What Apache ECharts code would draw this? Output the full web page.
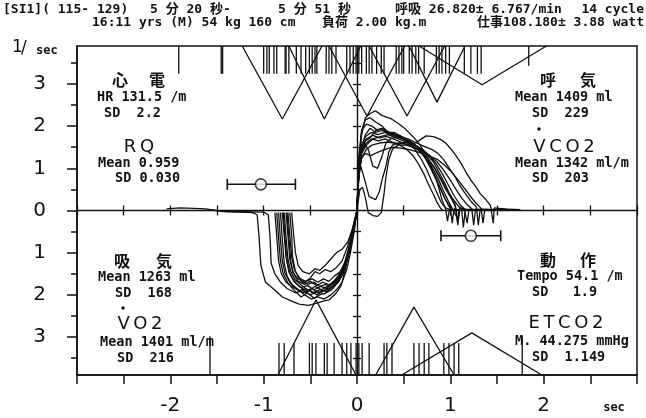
<!DOCTYPE html>
<html><head><meta charset="utf-8">
<script src="https://cdn.jsdelivr.net/npm/echarts@6/dist/echarts.min.js"></script>
<style>html,body{margin:0;padding:0;background:#fff}#c{width:646px;height:418px}</style>
</head><body><div id="c"></div>
<script>
// ---- breath cycles: [time (sec), flow (l/sec)], inspiration negative ----
const cycle01 = [[-2.04,0.04],[-1.9,0.06],[-1.75,0.05],[-1.62,0.04],[-1.52,0.0],[-1.4,-0.03],[-1.25,-0.04],[-1.12,-0.05],[-1.07,-0.1],[-1.05,-0.6],[-1.03,-1.3],[-0.98,-1.7],[-0.9,-1.85],[-0.8,-2.05],[-0.7,-2.15],[-0.62,-2.22],[-0.52,-2.25],[-0.44,-2.2],[-0.36,-2.15],[-0.3,-2.12],[-0.22,-1.95],[-0.17,-1.78],[-0.12,-1.35],[-0.08,-0.9],[-0.04,-0.45],[0,0],[0.02,0.9],[0.05,1.35],[0.1,1.55],[0.17,1.7],[0.25,1.75],[0.33,1.8],[0.42,1.72],[0.5,1.65],[0.58,1.55],[0.65,1.45],[0.72,1.28],[0.8,1.05],[0.87,0.75],[0.93,0.45],[0.98,0.22],[1.02,0.05],[1.08,-0.2],[1.1,0.05],[1.2,0.02]];
const cycle02 = [[-1.6,0.02],[-1.4,-0.02],[-1.2,-0.03],[-1.0,-0.04],[-0.95,-0.1],[-0.93,-0.7],[-0.92,-1.25],[-0.88,-1.5],[-0.82,-1.7],[-0.75,-1.85],[-0.66,-1.95],[-0.58,-1.9],[-0.5,-2.0],[-0.42,-1.92],[-0.35,-1.98],[-0.28,-1.85],[-0.2,-1.7],[-0.14,-1.45],[-0.09,-1.0],[-0.04,-0.5],[0,0],[0.02,1.1],[0.05,1.9],[0.09,2.15],[0.14,2.2],[0.2,2.1],[0.27,2.0],[0.33,1.85],[0.4,1.85],[0.48,1.75],[0.55,1.6],[0.62,1.45],[0.68,1.25],[0.74,1.0],[0.8,0.7],[0.85,0.45],[0.9,0.2],[0.95,0.06],[1.0,0.02]];
const cycle03 = [[-0.88,-0.05],[-0.86,-0.6],[-0.84,-1.2],[-0.81,-1.5],[-0.76,-1.7],[-0.7,-1.8],[-0.62,-1.9],[-0.55,-1.85],[-0.48,-1.95],[-0.4,-1.88],[-0.33,-1.92],[-0.26,-1.8],[-0.2,-1.65],[-0.14,-1.4],[-0.09,-0.95],[-0.04,-0.45],[0,0],[0.02,1.2],[0.05,1.8],[0.09,2.2],[0.14,2.3],[0.2,2.36],[0.27,2.25],[0.37,2.17],[0.45,2.05],[0.52,1.93],[0.6,1.75],[0.66,1.6],[0.72,1.4],[0.77,1.2],[0.81,0.95],[0.85,0.74],[0.88,0.5],[0.91,0.26],[0.95,0.03],[0.97,-0.25],[0.99,0.02],[1.05,0.0]];
const cycle04 = [[-0.72,-0.05],[-0.7,-0.6],[-0.69,-1.1],[-0.66,-1.45],[-0.6,-1.65],[-0.53,-1.75],[-0.46,-1.7],[-0.4,-1.8],[-0.33,-1.75],[-0.27,-1.8],[-0.2,-1.6],[-0.14,-1.3],[-0.09,-0.9],[-0.04,-0.45],[0,0],[0.02,0.85],[0.05,1.25],[0.1,1.45],[0.16,1.55],[0.24,1.6],[0.32,1.62],[0.4,1.6],[0.5,1.58],[0.58,1.55],[0.66,1.65],[0.74,1.77],[0.82,1.75],[0.9,1.68],[0.95,1.6],[1.01,1.45],[1.06,1.3],[1.12,1.1],[1.17,0.9],[1.22,0.72],[1.27,0.57],[1.32,0.4],[1.38,0.26],[1.43,0.12],[1.46,-0.3],[1.47,0.06],[1.49,0.02],[1.6,0.03],[1.75,0.02]];
const cycle05 = [[-0.8,-0.05],[-0.78,-0.6],[-0.76,-1.1],[-0.73,-1.45],[-0.68,-1.65],[-0.62,-1.8],[-0.55,-1.9],[-0.48,-1.85],[-0.42,-1.95],[-0.35,-1.9],[-0.28,-1.75],[-0.22,-1.6],[-0.16,-1.4],[-0.1,-1.05],[-0.05,-0.55],[0,0],[0.03,0.5],[0.06,0.55],[0.09,0.3],[0.12,-0.05],[0.17,-0.12],[0.22,-0.14],[0.26,-0.05],[0.29,0.4],[0.31,0.8],[0.34,1.2],[0.38,1.45],[0.44,1.55],[0.52,1.55],[0.6,1.5],[0.68,1.4],[0.75,1.25],[0.82,1.05],[0.88,0.8],[0.94,0.55],[1.0,0.32],[1.05,0.15],[1.08,-0.35],[1.1,0.08],[1.15,0.02]];
const cycle06 = [[-0.84,-0.05],[-0.82,-0.7],[-0.8,-1.2],[-0.77,-1.5],[-0.72,-1.7],[-0.65,-1.85],[-0.58,-1.95],[-0.5,-1.9],[-0.43,-2.0],[-0.36,-1.9],[-0.3,-1.85],[-0.24,-1.75],[-0.18,-1.6],[-0.12,-1.3],[-0.07,-0.85],[-0.03,-0.4],[0,0],[0.02,0.8],[0.04,1.05],[0.08,0.75],[0.13,0.33],[0.2,0.26],[0.24,0.45],[0.27,0.74],[0.31,1.05],[0.34,1.38],[0.38,1.55],[0.45,1.6],[0.53,1.62],[0.62,1.55],[0.7,1.45],[0.78,1.3],[0.85,1.1],[0.92,0.85],[0.98,0.6],[1.04,0.35],[1.1,0.15],[1.15,0.04],[1.18,-0.3],[1.2,0.03],[1.3,0.02]];
const cycle07 = [[-0.76,-0.05],[-0.74,-0.6],[-0.72,-1.15],[-0.69,-1.45],[-0.64,-1.6],[-0.57,-1.72],[-0.5,-1.6],[-0.45,-1.45],[-0.4,-1.5],[-0.34,-1.4],[-0.28,-1.45],[-0.22,-1.35],[-0.16,-1.2],[-0.1,-0.85],[-0.05,-0.45],[0,0],[0.02,0.95],[0.05,1.4],[0.08,1.6],[0.12,1.45],[0.17,1.05],[0.22,1.0],[0.27,1.3],[0.31,1.6],[0.36,1.7],[0.44,1.75],[0.52,1.7],[0.6,1.6],[0.67,1.45],[0.73,1.25],[0.79,1.0],[0.85,0.72],[0.9,0.48],[0.95,0.25],[1.0,0.08],[1.02,-0.3],[1.04,0.04],[1.1,0.01]];
const cycle08 = [[-0.79,-0.05],[-0.77,-0.7],[-0.75,-1.2],[-0.72,-1.5],[-0.67,-1.7],[-0.6,-1.82],[-0.53,-1.78],[-0.46,-1.88],[-0.39,-1.8],[-0.32,-1.85],[-0.26,-1.7],[-0.2,-1.62],[-0.14,-1.4],[-0.09,-1.0],[-0.04,-0.5],[0,0],[0.02,1.0],[0.05,1.55],[0.09,1.75],[0.15,1.85],[0.22,1.8],[0.3,1.85],[0.38,1.78],[0.46,1.72],[0.54,1.65],[0.62,1.55],[0.7,1.4],[0.77,1.2],[0.84,0.98],[0.9,0.75],[0.96,0.5],[1.02,0.3],[1.08,0.12],[1.12,0.03],[1.14,-0.4],[1.16,0.02],[1.25,0.01]];
const cycle09 = [[-0.75,-0.05],[-0.73,-0.65],[-0.71,-1.2],[-0.68,-1.5],[-0.63,-1.68],[-0.56,-1.75],[-0.5,-1.68],[-0.43,-1.78],[-0.37,-1.7],[-0.3,-1.76],[-0.24,-1.68],[-0.18,-1.55],[-0.12,-1.3],[-0.07,-0.9],[-0.03,-0.4],[0,0],[0.02,1.0],[0.05,1.5],[0.1,1.7],[0.17,1.78],[0.24,1.72],[0.31,1.76],[0.39,1.7],[0.47,1.62],[0.55,1.55],[0.63,1.48],[0.7,1.4],[0.78,1.3],[0.86,1.15],[0.93,0.95],[1.0,0.72],[1.06,0.5],[1.12,0.3],[1.18,0.14],[1.23,0.04],[1.25,-0.35],[1.27,0.03],[1.35,0.02]];
const cycle10 = [[-0.82,-0.05],[-0.8,-0.7],[-0.78,-1.25],[-0.75,-1.55],[-0.7,-1.75],[-0.63,-1.88],[-0.56,-2.0],[-0.49,-2.1],[-0.42,-2.05],[-0.35,-2.1],[-0.28,-2.0],[-0.22,-1.88],[-0.16,-1.7],[-0.11,-1.4],[-0.07,-1.0],[-0.03,-0.5],[0,0],[0.02,1.3],[0.05,1.9],[0.1,2.05],[0.16,2.0],[0.22,1.9],[0.28,1.95],[0.35,1.85],[0.43,1.8],[0.5,1.7],[0.58,1.6],[0.65,1.48],[0.72,1.3],[0.78,1.05],[0.84,0.8],[0.89,0.55],[0.94,0.3],[0.98,0.12],[1.01,0.02],[1.05,0.0]];
const cycle11 = [[-0.7,-0.05],[-0.68,-0.55],[-0.66,-1.0],[-0.63,-1.3],[-0.58,-1.45],[-0.51,-1.5],[-0.45,-1.38],[-0.4,-1.42],[-0.34,-1.3],[-0.28,-1.15],[-0.22,-1.0],[-0.16,-0.92],[-0.1,-0.75],[-0.05,-0.45],[0,0],[0.02,0.9],[0.05,1.25],[0.09,1.35],[0.15,1.3],[0.22,1.38],[0.3,1.45],[0.38,1.5],[0.46,1.48],[0.55,1.45],[0.63,1.4],[0.71,1.35],[0.79,1.28],[0.87,1.2],[0.95,1.05],[1.02,0.9],[1.09,0.7],[1.16,0.5],[1.22,0.32],[1.28,0.16],[1.33,0.05],[1.35,-0.3],[1.37,0.03],[1.45,0.02]];
const cycle12 = [[-0.86,-0.05],[-0.84,-0.65],[-0.82,-1.2],[-0.79,-1.5],[-0.74,-1.72],[-0.67,-1.9],[-0.6,-2.05],[-0.53,-1.95],[-0.46,-2.08],[-0.4,-2.0],[-0.33,-1.95],[-0.27,-1.88],[-0.21,-1.72],[-0.15,-1.5],[-0.1,-1.1],[-0.05,-0.6],[0,0],[0.02,1.0],[0.05,1.5],[0.09,1.8],[0.14,1.95],[0.2,1.85],[0.27,1.9],[0.34,1.82],[0.42,1.78],[0.5,1.7],[0.58,1.62],[0.66,1.5],[0.74,1.35],[0.82,1.15],[0.88,0.9],[0.94,0.65],[0.99,0.4],[1.03,0.2],[1.06,0.06],[1.08,-0.3],[1.1,0.02]];
const cycle13 = [[-0.78,-0.05],[-0.76,-0.65],[-0.74,-1.15],[-0.71,-1.45],[-0.66,-1.65],[-0.59,-1.78],[-0.52,-1.9],[-0.45,-1.8],[-0.38,-1.88],[-0.31,-1.78],[-0.25,-1.72],[-0.19,-1.55],[-0.13,-1.3],[-0.08,-0.9],[-0.04,-0.45],[0,0],[0.02,0.9],[0.05,1.4],[0.1,1.6],[0.16,1.7],[0.23,1.65],[0.3,1.7],[0.38,1.62],[0.46,1.55],[0.53,1.45],[0.6,1.3],[0.66,1.1],[0.72,0.85],[0.77,0.6],[0.82,0.38],[0.86,0.18],[0.9,0.04],[0.92,0.0]];
const cycle14 = [[-0.74,-0.05],[-0.72,-0.6],[-0.7,-1.1],[-0.67,-1.4],[-0.62,-1.6],[-0.55,-1.68],[-0.48,-1.62],[-0.42,-1.7],[-0.36,-1.62],[-0.3,-1.68],[-0.24,-1.55],[-0.18,-1.45],[-0.12,-1.2],[-0.07,-0.85],[-0.03,-0.4],[0,0],[0.02,0.95],[0.05,1.45],[0.09,1.65],[0.14,1.72],[0.2,1.9],[0.26,1.95],[0.33,1.85],[0.4,1.8],[0.48,1.75],[0.56,1.68],[0.64,1.6],[0.72,1.52],[0.8,1.45],[0.87,1.35],[0.93,1.2],[0.99,1.0],[1.05,0.8],[1.1,0.6],[1.16,0.4],[1.22,0.22],[1.28,0.08],[1.3,-0.35],[1.32,0.04],[1.4,0.02],[1.55,0.03],[1.7,0.02]];

// ---- beat markers (sec) ----
const topBeatTimes = [-1.91,-1.455,-1.44,-1.0,-0.965,-0.94,-0.89,-0.86,-0.77,-0.76,-0.73,-0.65,-0.6,-0.55,-0.51,-0.48,-0.45,-0.43,-0.33,-0.3,-0.27,-0.225,-0.11,-0.075,-0.04,-0.01,0.02,0.05,0.1,0.13,0.16,0.21,0.26,0.29,0.42,0.45,0.48,0.5,0.56,0.59,0.63,0.66,0.72,0.85,0.88,0.91,0.95,0.99,1.15,1.22,1.29,1.33];
const topBeatShort = [1.84];
const bottomBeatTimes = [-0.836,-0.78,-0.675,-0.51,-0.48,-0.44,-0.35,-0.32,-0.245,-0.16,-0.11,-0.065,-0.01,0.02,0.055,0.13,0.29,0.32,0.375,0.61,0.665,0.72,0.77,0.93,0.985,1.04,1.09];
const bottomBeatLong = [-1.575,1.77];

// ---- tempo triangles [sec, level] ----
const topTempoMarks = [
  [[-1.23,3.9],[-0.8,2.17],[-0.375,3.9]],
  [[-0.73,3.9],[-0.35,2.17],[0.04,3.9]],
  [[-0.3,3.9],[0.107,2.24],[0.51,3.9]],
  [[0.13,3.9],[0.536,2.24],[0.94,3.9]],
  [[0.557,3.9],[0.857,2.57],[1.157,3.9]],
  [[0.665,3.9],[1.34,2.98],[2.03,3.9]]
];
const bottomTempoMarks = [
  [[-0.847,-3.9],[-0.44,-2.12],[-0.01,-3.9]],
  [[0.2,-3.9],[0.61,-2.29],[1.04,-3.9]],
  [[0.48,-3.9],[1.23,-2.9],[1.98,-3.9]]
];

// ---- mean ± SD markers: [low, mean, high, level] ----
const inspStartStat = [-1.39,-1.03,-0.66,0.62];
const expEndStat = [0.90,1.22,1.54,-0.60];

// ---- ticks ----
const xLabelValues = [-2,-1,0,1,2];
const yMajorTicks = [-3,-2,-1,0,1,2,3];
const yMinorTicks = [-3.5,-2.5,-1.5,-0.5,0.5,1.5,2.5,3.5];
const zeroLineYTicks = [-3.5,-3,-2.5,-2,-1.5,-1,-0.5,0.5,1,1.5,2,2.5,3,3.5];

const INK = '#111';
const chart = echarts.init(document.getElementById('c'), null, {renderer:'canvas'});
const series = [];
[cycle01,cycle02,cycle03,cycle04,cycle05,cycle06,cycle07,cycle08,cycle09,cycle10,cycle11,cycle12,cycle13,cycle14].forEach(c => {
  series.push({type:'line', data:c, symbol:'none', lineStyle:{color:INK, width:1.3}, silent:true, z:3});
});
topTempoMarks.concat(bottomTempoMarks).forEach(p => {
  series.push({type:'line', data:p, symbol:'none', lineStyle:{color:INK, width:1.3}, silent:true, z:2});
});
function beatSeries(data){
  return {type:'custom', data, silent:true, clip:true, z:2,
    renderItem:(params, api) => {
      const a = api.coord([api.value(0), api.value(1)]);
      const b = api.coord([api.value(0), api.value(2)]);
      return {type:'line', shape:{x1:a[0], y1:a[1], x2:b[0], y2:b[1]}, style:{stroke:INK, lineWidth:1.3}};
    }};
}
series.push(beatSeries(topBeatTimes.map(t => [t, 3.9, 3.24])));
series.push(beatSeries(topBeatShort.map(t => [t, 3.9, 3.43])));
series.push(beatSeries(bottomBeatTimes.map(t => [t, -3.9, -3.14])));
series.push(beatSeries(bottomBeatLong.map(t => [t, -3.9, -2.98])));
[inspStartStat, expEndStat].forEach(s => {
  series.push({type:'line', data:[[s[0],s[3]],[s[2],s[3]]], symbol:'rect', symbolSize:[1.6,11], showSymbol:true,
    itemStyle:{color:INK}, lineStyle:{color:INK, width:1.5}, silent:true, z:4});
  series.push({type:'scatter', data:[[s[1],s[3]]], symbol:'circle', symbolSize:11,
    itemStyle:{color:'#fff', borderColor:INK, borderWidth:1.6}, silent:true, z:5});
});

const mono = 'bold 13.5px "DejaVu Sans Mono","Noto Sans CJK JP",monospace';
const head = 'bold 13px "DejaVu Sans Mono","Noto Sans CJK JP",monospace';
const cjk = 'bold 16px "Noto Sans CJK JP"';
const big = '18px "DejaVu Sans"';
function T(x, y, text, font, align){
  align = align || 'left';
  return {type:'text', x, y, silent:true, z:10,
    style:{text, font, fill:INK, align, verticalAlign:'middle', textAlign:align, textVerticalAlign:'middle'}};
}
const dot = (cx, cy) => ({type:'circle', silent:true, shape:{cx, cy, r:1.7}, style:{fill:INK}});
const graphics = [
  T(3,10,'[SI1]( 115- 129)',head), T(150,10,'5 分 20 秒-',head), T(278,10,'5 分 51 秒',head),
  T(395,10,'呼吸 26.820± 6.767/min',head), T(644,10,'14 cycle',head,'right'),
  T(92,23,'16:11 yrs (M) 54 kg 160 cm',head), T(322,23,'負荷 2.00 kg.m',head),
  T(644,23,'仕事108.180± 3.88 watt',head,'right'),
  T(12,48,'1','17px "DejaVu Sans"'), T(21,49,'/','17px "DejaVu Sans"'), T(36,51,'sec','bold 12px "DejaVu Sans Mono"'),
  T(614,408,'sec','bold 12px "DejaVu Sans Mono"','center'),
  T(120,80,'心',cjk,'center'), T(157,80,'電',cjk,'center'),
  T(97,97,'HR 131.5 /m',mono), T(104,113,'SD  2.2',mono),
  T(139,147,'R\u2009Q',big,'center'),
  T(98,163,'Mean 0.959',mono), T(115,178,'SD 0.030',mono),
  T(122,261,'吸',cjk,'center'), T(164,261,'気',cjk,'center'),
  T(98,277,'Mean 1263 ml',mono), T(115,293,'SD  168',mono),
  dot(123,308), T(140,324,'V\u2009O\u20092',big,'center'),
  T(100,342,'Mean 1401 ml/m',mono), T(117,358,'SD  216',mono),
  T(548,80,'呼',cjk,'center'), T(588,80,'気',cjk,'center'),
  T(515,97,'Mean 1409 ml',mono), T(532,113,'SD  229',mono),
  dot(539,129), T(564,147,'V\u2009C\u2009O\u20092',big,'center'),
  T(515,163,'Mean 1342 ml/m',mono), T(532,178,'SD  203',mono),
  T(548,260,'動',cjk,'center'), T(588,260,'作',cjk,'center'),
  T(517,276,'Tempo 54.1 /m',mono), T(532,292,'SD   1.9',mono),
  T(566,323,'E\u2009T\u2009C\u2009O\u20092',big,'center'),
  T(515,341,'M. 44.275 mmHg',mono), T(532,357,'SD  1.149',mono)
];

const axisFont = {fontFamily:'DejaVu Sans', fontSize:20, color:INK};
const option = {
  animation:false,
  backgroundColor:'#fff',
  grid:{left:77, right:9, top:46, bottom:43, show:true, borderColor:INK, borderWidth:1.5, backgroundColor:'transparent', containLabel:false, outerBoundsMode:'none'},
  xAxis:[
    {type:'value', min:-3, max:3, interval:0.5, position:'bottom',
     axisLine:{show:true, onZero:false, lineStyle:{color:INK, width:1.5}},
     axisTick:{show:true, length:9, lineStyle:{color:INK, width:1.5}},
     axisLabel:Object.assign({margin:21, formatter:v => xLabelValues.indexOf(v) >= 0 ? String(v) : ''}, axisFont),
     splitLine:{show:false}},
    {type:'value', min:-3, max:3, interval:0.5, position:'bottom',
     axisLine:{show:true, onZero:true, onZeroAxisIndex:0, lineStyle:{color:INK, width:1.4}},
     axisTick:{show:true, length:5, inside:true, lineStyle:{color:INK, width:1.3}},
     axisLabel:{show:false}, splitLine:{show:false}},
    {type:'value', min:-3, max:3, interval:0.5, position:'bottom',
     axisLine:{show:false, onZero:true, onZeroAxisIndex:0},
     axisTick:{show:true, length:5, inside:false, lineStyle:{color:INK, width:1.3}},
     axisLabel:{show:false}, splitLine:{show:false}}
  ],
  yAxis:[
    {type:'value', min:-3.9, max:3.9, position:'left',
     axisLine:{show:true, onZero:false, lineStyle:{color:INK, width:1.5}},
     axisTick:{show:true, length:10, customValues:yMajorTicks, lineStyle:{color:INK, width:1.5}},
     axisLabel:Object.assign({margin:31, customValues:yMajorTicks, formatter:v => String(Math.abs(Math.round(v)))}, axisFont),
     splitLine:{show:false}},
    {type:'value', min:-3.9, max:3.9, position:'left',
     axisLine:{show:false, onZero:false},
     axisTick:{show:true, length:6, customValues:yMinorTicks, lineStyle:{color:INK, width:1.5}},
     axisLabel:{show:false}, splitLine:{show:false}},
    {type:'value', min:-3.9, max:3.9, position:'left',
     axisLine:{show:true, onZero:true, onZeroAxisIndex:0, lineStyle:{color:INK, width:1.4}},
     axisTick:{show:true, length:4, inside:false, customValues:zeroLineYTicks, lineStyle:{color:INK, width:1.3}},
     axisLabel:{show:false}, splitLine:{show:false}},
    {type:'value', min:-3.9, max:3.9, position:'left',
     axisLine:{show:false, onZero:true, onZeroAxisIndex:0},
     axisTick:{show:true, length:4, inside:true, customValues:zeroLineYTicks, lineStyle:{color:INK, width:1.3}},
     axisLabel:{show:false}, splitLine:{show:false}}
  ],
  series,
  graphic:{elements:graphics}
};
chart.setOption(option);
</script></body></html>
